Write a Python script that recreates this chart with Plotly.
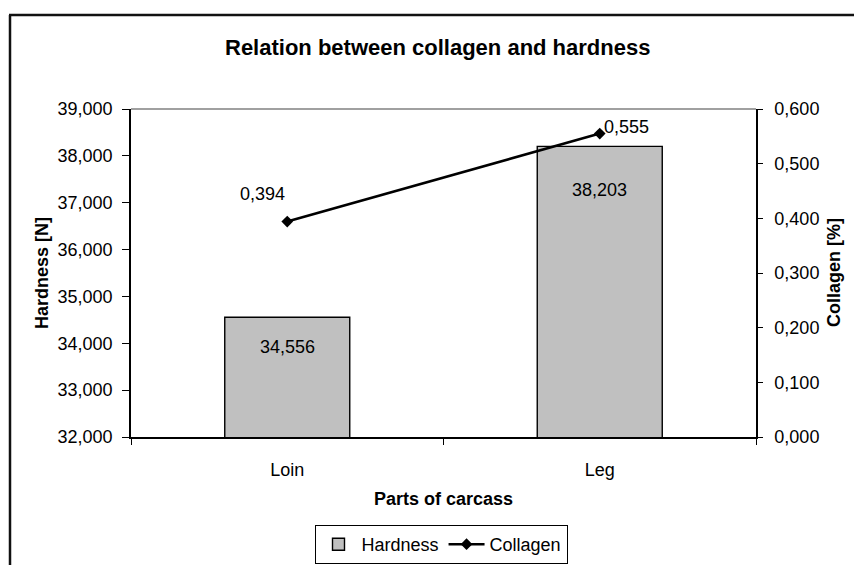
import plotly.graph_objects as go

# Data: mean hardness and collagen content per carcass part
parts = ["Loin", "Leg"]
hardness = [34.556, 38.203]      # Hardness [N]
collagen = [0.394, 0.555]        # Collagen [%]

W, H = 854, 565
L, R, T, B = 131, 98, 109, 128   # plot area margins in px
PW, PH = W - L - R, H - T - B


def px(x):
    return (x - L) / PW


def py(y):
    return (H - B - y) / PH


def fmt(v):
    return f"{v:.3f}".replace(".", ",")


FONT = "Liberation Sans, Arial, sans-serif"

fig = go.Figure()

fig.add_trace(go.Bar(
    x=parts, y=hardness, name="Hardness",
    marker=dict(color="#C0C0C0", line=dict(color="#000000", width=1.4)),
    width=0.4, xaxis="x", yaxis="y",
))
fig.add_trace(go.Scatter(
    x=parts, y=collagen, name="Collagen", mode="lines+markers",
    line=dict(color="#000000", width=2.6),
    marker=dict(symbol="diamond", size=9, color="#000000"),
    xaxis="x", yaxis="y2",
))

annotations = []
# value labels
for p, v, dy in zip(parts, hardness, [-30, -44]):
    annotations.append(dict(x=p, y=v, xref="x", yref="y", text=fmt(v),
                            showarrow=False, yshift=dy,
                            font=dict(size=18, color="#000")))
for p, v, dx, dy in zip(parts, collagen, [-25, 27], [28, 7]):
    annotations.append(dict(x=p, y=v, xref="x", yref="y2", text=fmt(v),
                            showarrow=False, xshift=dx, yshift=dy,
                            font=dict(size=18, color="#000")))
# chart and axis titles
annotations += [
    dict(x=px(437.5), y=py(47), xref="paper", yref="paper",
         text="<b>Relation between collagen and hardness</b>", showarrow=False,
         xanchor="center", yanchor="middle", font=dict(size=22, color="#000")),
    dict(x=px(42), y=0.5, xref="paper", yref="paper", text="<b>Hardness [N]</b>",
         textangle=-90, showarrow=False, xanchor="center", yanchor="middle",
         font=dict(size=18, color="#000")),
    dict(x=px(834), y=0.5, xref="paper", yref="paper", text="<b>Collagen [%]</b>",
         textangle=-90, showarrow=False, xanchor="center", yanchor="middle",
         font=dict(size=18, color="#000")),
    dict(x=px(443), y=py(499), xref="paper", yref="paper", text="<b>Parts of carcass</b>",
         showarrow=False, xanchor="center", yanchor="middle",
         font=dict(size=18, color="#000")),
]

frame = dict(color="#111111", width=2.5)
shapes = [
    # chart-area frame (left and top edges; the rest runs off the canvas)
    dict(type="line", xref="paper", yref="paper",
         x0=px(10), x1=px(10), y0=py(H + 5), y1=py(15), line=frame),
    dict(type="line", xref="paper", yref="paper",
         x0=px(9), x1=px(W + 5), y0=py(15), y1=py(15), line=frame),
    # plot-area top border
    dict(type="line", xref="paper", yref="paper", x0=0, x1=1, y0=1, y1=1,
         line=dict(color="#808080", width=1.3)),
]

axis_line = dict(showline=True, linecolor="#000000", linewidth=1.5,
                 tickcolor="#000000", tickwidth=1.4, showgrid=False,
                 zeroline=False)

fig.update_layout(
    width=W, height=H,
    margin=dict(l=L, r=R, t=T, b=B, pad=0, autoexpand=False),
    paper_bgcolor="#ffffff", plot_bgcolor="#ffffff",
    separators=",.",
    font=dict(family=FONT, size=18, color="#000000"),
    showlegend=True,
    legend=dict(orientation="h", x=px(441), y=py(564), xanchor="center",
                yanchor="bottom", bordercolor="#000000", borderwidth=1,
                bgcolor="#ffffff", font=dict(size=18),
                tracegroupgap=0, itemwidth=36),
    xaxis=dict(type="category", tickson="boundaries", ticks="outside",
               ticklen=6, ticklabelstandoff=16, range=[-0.5, 1.5],
               **axis_line),
    xaxis3=dict(overlaying="x", anchor="y", side="bottom", range=[-0.5, 1.5],
                tickvals=[0.5], ticks="inside", ticklen=5,
                showticklabels=False, showline=False, tickcolor="#000000",
                tickwidth=1.4, showgrid=False, zeroline=False),
    yaxis=dict(range=[32, 39], dtick=1, tickformat=".3f", ticks="outside",
               ticklen=7, ticklabelstandoff=6, **axis_line),
    yaxis2=dict(range=[0, 0.6], dtick=0.1, tickformat=".3f", overlaying="y",
                side="right", anchor="x", ticks="outside", ticklen=5,
                ticklabelstandoff=8, **axis_line),
    yaxis3=dict(range=[0, 0.6], dtick=0.1, overlaying="y", side="right",
                anchor="x", ticks="inside", ticklen=6, showticklabels=False,
                showline=False, tickcolor="#000000", tickwidth=1.4,
                showgrid=False, zeroline=False),
    annotations=annotations,
    shapes=shapes,
    bargap=0.6,
)

fig.write_html("out.html")
